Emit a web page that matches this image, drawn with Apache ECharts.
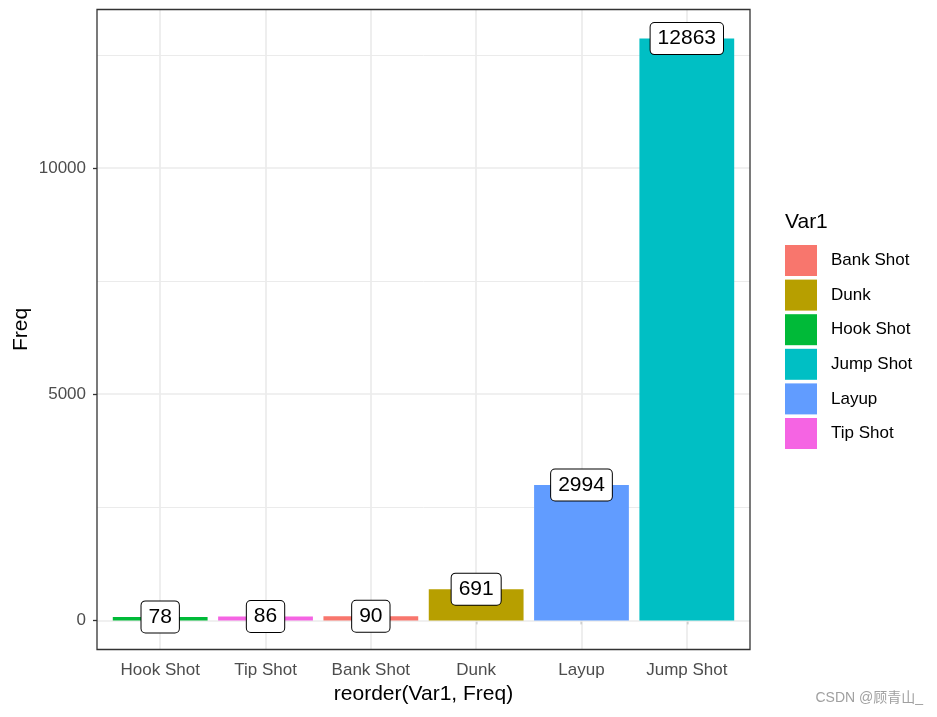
<!DOCTYPE html>
<html>
<head>
<meta charset="utf-8">
<script src="https://cdn.jsdelivr.net/npm/echarts@6/dist/echarts.min.js"></script>
<style>html,body{margin:0;padding:0;background:#fff;}#c{width:937px;height:717px;}</style>
</head>
<body>
<div id="c"></div>
<script>
// ---- data ----
const categories = ['Hook Shot', 'Tip Shot', 'Bank Shot', 'Dunk', 'Layup', 'Jump Shot'];
const freq = [78, 86, 90, 691, 2994, 12863];
const legendOrder = ['Bank Shot', 'Dunk', 'Hook Shot', 'Jump Shot', 'Layup', 'Tip Shot'];
const yTicks = [0, 5000, 10000];
const yMinorTicks = [2500, 7500, 12500];
const xTitle = 'reorder(Var1, Freq)';
const yTitle = 'Freq';
const legendTitle = 'Var1';

// ---- styles ----
const palette = {
  'Bank Shot': '#F8766D', 'Dunk': '#B79F00', 'Hook Shot': '#00BA38',
  'Jump Shot': '#00BFC4', 'Layup': '#619CFF', 'Tip Shot': '#F564E3'
};
const FONT = "'Liberation Sans', Arial, sans-serif";
const maxV = Math.max.apply(null, freq);
const yMin = -0.05 * maxV, yMax = 1.05 * maxV;

const P = {left: 97, right: 750, top: 9.5, bottom: 649.5};
const band = (P.right - P.left) / (categories.length + 0.2);
const inset = band * 0.1;

const chart = echarts.init(document.getElementById('c'), null, {renderer: 'canvas'});

const barSeries = legendOrder.map(name => ({
  name: name,
  type: 'bar',
  xAxisIndex: 1, yAxisIndex: 1,
  stack: 'all',
  barWidth: '90%',
  z: 3,
  itemStyle: {color: palette[name]},
  data: categories.map((c, i) => c === name ? freq[i] : '-')
}));

const option = {
  animation: false,
  backgroundColor: '#ffffff',
  grid: [
    {left: P.left, right: 937 - P.right, top: P.top, bottom: 717 - P.bottom,
     show: true, borderColor: '#333333', borderWidth: 1.3, backgroundColor: 'transparent', z: 10},
    {left: P.left + inset, right: 937 - P.right + inset, top: P.top, bottom: 717 - P.bottom}
  ],
  xAxis: [
    {type: 'value', gridIndex: 0, min: 0, max: 1, show: false},
    {type: 'category', gridIndex: 1, data: categories,
     axisLine: {show: false},
     axisTick: {show: true, alignWithLabel: true, length: 4, lineStyle: {color: '#333333', width: 1.3}},
     axisLabel: {color: '#4D4D4D', fontSize: 17, fontFamily: FONT, margin: 12, interval: 0},
     splitLine: {show: false}}
  ],
  yAxis: [
    {type: 'value', gridIndex: 0, min: yMin, max: yMax,
     axisLine: {show: false},
     axisTick: {show: true, length: 4, customValues: yTicks, lineStyle: {color: '#333333', width: 1.3}},
     axisLabel: {color: '#4D4D4D', fontSize: 17, fontFamily: FONT, margin: 11, customValues: yTicks,
                 formatter: v => String(v)},
     splitLine: {show: false}},
    {type: 'value', gridIndex: 1, min: yMin, max: yMax, show: false, splitLine: {show: false}}
  ],
  legend: {
    orient: 'vertical', left: 785, top: 245,
    icon: 'rect', itemWidth: 32, itemHeight: 31, itemGap: 3.6,
    padding: 0,
    textStyle: {color: '#000', fontSize: 17, fontFamily: FONT, padding: [2, 0, 0, 9]},
    data: legendOrder,
    selectedMode: false
  },
  series: [
    {
      type: 'line', xAxisIndex: 0, yAxisIndex: 0, data: [[0.5, 0]], symbol: 'none',
      lineStyle: {opacity: 0}, silent: true, z: 1,
      markLine: {
        silent: true, symbol: 'none', label: {show: false}, animation: false, z: 1,
        data: yTicks.map(v => ({yAxis: v, lineStyle: {color: '#EBEBEB', width: 1.7, type: 'solid'}}))
          .concat(yMinorTicks.map(v => ({yAxis: v, lineStyle: {color: '#EBEBEB', width: 1, type: 'solid'}})))
      }
    },
    {
      type: 'line', xAxisIndex: 1, yAxisIndex: 1, data: [[categories[0], 0]], symbol: 'none',
      lineStyle: {opacity: 0}, silent: true, z: 1,
      markLine: {
        silent: true, symbol: 'none', label: {show: false}, animation: false, z: 1,
        data: categories.map(c => ({xAxis: c, lineStyle: {color: '#EBEBEB', width: 1.7, type: 'solid'}}))
      }
    }
  ].concat(barSeries).concat([
    {
      type: 'scatter', xAxisIndex: 1, yAxisIndex: 1, symbolSize: 0, z: 5, silent: true,
      itemStyle: {opacity: 1},
      data: categories.map((c, i) => [c, freq[i]]),
      label: {
        show: true, position: 'inside', formatter: p => String(p.value[1]),
        color: '#000', fontSize: 21, fontFamily: FONT, lineHeight: 22,
        backgroundColor: '#fff', borderColor: '#000', borderWidth: 1, borderRadius: 4,
        padding: [5, 7, 4, 7], opacity: 1
      }
    }
  ]),
  graphic: [
    {type: 'text', left: 785, top: 212,
     style: {text: legendTitle, fill: '#000', font: '21px ' + FONT}},
    {type: 'text', x: (P.left + P.right) / 2, y: 694,
     style: {text: xTitle, fill: '#000', font: '21px ' + FONT, align: 'center', verticalAlign: 'middle'}},
    {type: 'text', x: 21, y: (P.top + P.bottom) / 2, rotation: Math.PI / 2,
     style: {text: yTitle, fill: '#000', font: '21px ' + FONT, align: 'center', verticalAlign: 'middle'}},
    {type: 'text', x: 923, y: 698,
     style: {text: 'CSDN @顾青山_', fill: '#A0A0A0', font: "14px 'Liberation Sans', 'Noto Sans CJK SC', sans-serif", align: 'right', verticalAlign: 'middle'}}
  ]
};
chart.setOption(option);
</script>
</body>
</html>
